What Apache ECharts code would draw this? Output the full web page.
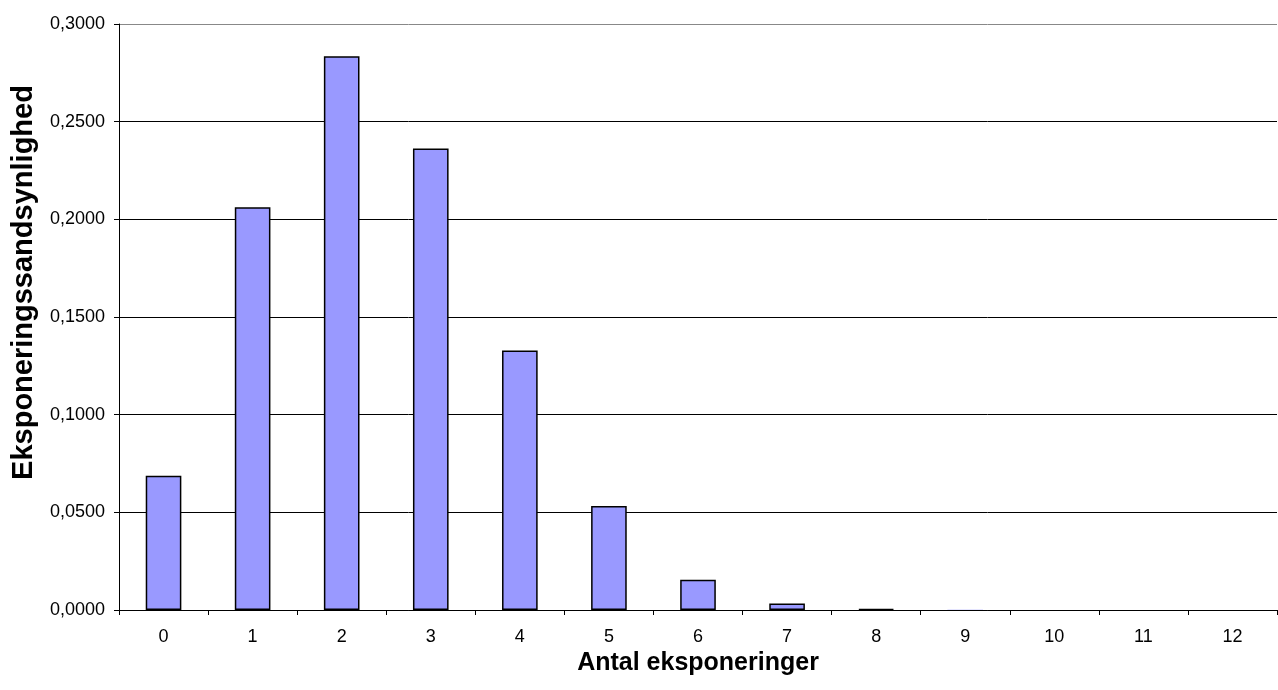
<!DOCTYPE html>
<html>
<head>
<meta charset="utf-8">
<script src="https://cdn.jsdelivr.net/npm/echarts@6/dist/echarts.min.js"></script>
<style>
html,body{margin:0;padding:0;background:#fff;}
#chart{width:1278px;height:690px;}
</style>
</head>
<body>
<div id="chart"></div>
<script>
const categories = ['0','1','2','3','4','5','6','7','8','9','10','11','12'];
const probabilities = [0.0687, 0.2062, 0.2835, 0.2362, 0.1329, 0.0532, 0.0155, 0.0033, 0.0005, 0.0001, 0.0000, 0.0000, 0.0000];
const yTicks = { min: 0, max: 0.3, interval: 0.05 };
const xTitle = 'Antal eksponeringer';
const yTitle = 'Eksponeringssandsynlighed';

const chart = echarts.init(document.getElementById('chart'), null, {renderer: 'canvas'});
const font = 'Liberation Sans, Arial, sans-serif';
const barData = probabilities.map(v => v < 0.0002 ? { value: v, itemStyle: { borderWidth: 0 } } : v);
chart.setOption({
  animation: false,
  backgroundColor: '#fff',
  grid: { left: 119, right: 1, top: 24, bottom: 80, containLabel: false },
  xAxis: {
    type: 'category',
    data: categories,
    boundaryGap: true,
    name: xTitle,
    nameLocation: 'middle',
    nameGap: 38,
    nameTextStyle: { fontFamily: font, fontSize: 25, fontWeight: 'bold', color: '#000', verticalAlign: 'top' },
    axisLine: { lineStyle: { color: '#000', width: 1 } },
    axisTick: { show: true, alignWithLabel: false, inside: false, length: 5, lineStyle: { color: '#000' } },
    axisLabel: { fontFamily: font, fontSize: 18, color: '#000', margin: 18 },
    splitLine: { show: false }
  },
  yAxis: {
    type: 'value',
    min: yTicks.min,
    max: yTicks.max,
    interval: yTicks.interval,
    name: yTitle,
    nameLocation: 'middle',
    nameGap: 81,
    nameRotate: 90,
    nameTextStyle: { fontFamily: font, fontSize: 29, fontWeight: 'bold', color: '#000', padding: [0, 0, 0, 69] },
    axisLine: { show: true, lineStyle: { color: '#000', width: 1 } },
    axisTick: { show: true, length: 5, lineStyle: { color: '#000' } },
    axisLabel: { fontFamily: font, fontSize: 18, color: '#000', margin: 14,
      formatter: v => v.toFixed(4).replace('.', ',') },
    splitLine: { show: true, lineStyle: { color: ['#000', '#000', '#000', '#000', '#000', '#000', '#888'], width: 1 } }
  },
  series: [{
    type: 'bar',
    data: barData,
    barWidth: '40%',
    itemStyle: { color: '#9999FF', borderColor: '#000', borderWidth: 1.5 }
  }]
});
</script>
</body>
</html>
